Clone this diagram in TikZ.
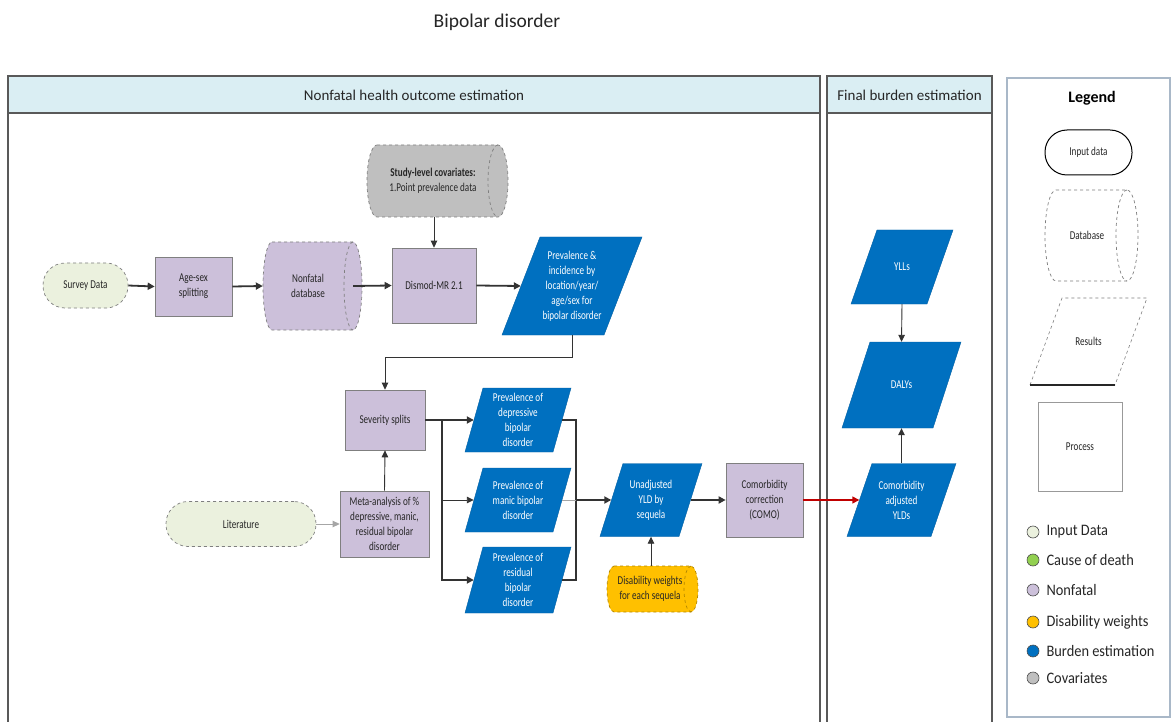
\documentclass[tikz,border=0pt]{standalone}
\usepackage{fontspec}
\setmainfont{Carlito}
\newfontfamily\nodefont{Carlito}[FakeStretch=0.76]
\newfontfamily\legfont{Carlito}[FakeStretch=0.9]
\usetikzlibrary{arrows.meta}

\definecolor{purp}{HTML}{CCC0DA}
\definecolor{inputgreen}{HTML}{EBF1DE}
\definecolor{covgray}{HTML}{BFBFBF}
\definecolor{burden}{HTML}{0070C0}
\definecolor{dwyellow}{HTML}{FFC000}
\definecolor{deathgreen}{HTML}{92D050}
\definecolor{headblue}{HTML}{DAEEF3}
\definecolor{framegray}{HTML}{595959}
\definecolor{linegray}{HTML}{333333}
\definecolor{edgegray}{HTML}{7F7F7F}
\definecolor{legendedge}{HTML}{A9B8C8}
\definecolor{comored}{HTML}{C00000}
\definecolor{txtgray}{HTML}{262626}

\newcommand{\nodetextfont}{\nodefont\fontsize{12}{15}\selectfont}

% horizontal cylinder: x0, y0, x1, y1, end radius, style
\newcommand{\hcylinder}[6]{%
  \path[#6] ({#1+#5},#2) -- ({#3-#5},#2)
    .. controls ({#3-0.4477*#5},#2) and (#3,{(#2+#4)/2-0.5523*(#4-#2)/2}) .. (#3,{(#2+#4)/2})
    .. controls (#3,{(#2+#4)/2+0.5523*(#4-#2)/2}) and ({#3-0.4477*#5},#4) .. ({#3-#5},#4)
    -- ({#1+#5},#4)
    .. controls ({#1+0.4477*#5},#4) and (#1,{(#2+#4)/2+0.5523*(#4-#2)/2}) .. (#1,{(#2+#4)/2})
    .. controls (#1,{(#2+#4)/2-0.5523*(#4-#2)/2}) and ({#1+0.4477*#5},#2) .. cycle;
  \path[#6, fill=none] ({#3-#5},#2)
    .. controls ({#3-1.5523*#5},#2) and ({#3-2*#5},{(#2+#4)/2-0.5523*(#4-#2)/2}) .. ({#3-2*#5},{(#2+#4)/2})
    .. controls ({#3-2*#5},{(#2+#4)/2+0.5523*(#4-#2)/2}) and ({#3-1.5523*#5},#4) .. ({#3-#5},#4);
}

% parallelogram: shape style, text style, name, cx, cy, mid width, height, slant, text
\newcommand{\parallelnode}[9]{%
  \path[#1] ({#4-#6/2-#8/2},{#5+#7/2}) -- ({#4-#6/2+#8/2},{#5-#7/2})
    -- ({#4+#6/2+#8/2},{#5-#7/2}) -- ({#4+#6/2-#8/2},{#5+#7/2}) -- cycle;
  \node[#2, minimum width=#6pt, minimum height=#7pt] (#3) at (#4,#5) {#9};
}

\begin{document}
\begin{tikzpicture}[x=1pt,y=-1pt,
  frame/.style={draw=framegray, line width=1.4pt},
  headtext/.style={font=\fontsize{15}{18}\selectfont, text=txtgray},
  box/.style={draw=edgegray, line width=0.7pt, fill=purp, align=center,
    inner sep=2pt, font=\nodetextfont, text=txtgray},
  stadium/.style={draw=edgegray, dashed, line width=0.7pt, fill=inputgreen,
    rounded corners=22pt, align=center, font=\nodetextfont, text=txtgray},
  bodytext/.style={align=center, inner sep=0pt, font=\nodetextfont, text=txtgray},
  bluepara/.style={fill=burden, draw=burden!85!black, line width=0.4pt},
  ptext/.style={align=center, inner sep=0pt, text=white, font=\nodetextfont},
  flow/.style={draw=linegray, line width=1.8pt, -{Triangle[length=7pt,width=7pt]}},
  thinflow/.style={draw=linegray, line width=0.9pt, -{Triangle[length=7pt,width=6.5pt]}},
  lightflow/.style={draw=gray!70, line width=0.9pt, -{Triangle[length=7pt,width=6.5pt]}},
  plain/.style={draw=linegray, line width=1.4pt},
  legdot/.style={circle, draw=gray!60!black, line width=0.6pt, minimum size=12pt, inner sep=0pt},
  legtext/.style={anchor=west, font=\legfont\fontsize{16}{19}\selectfont, text=txtgray}]

\useasboundingbox[fill=white] (0,0) rectangle (1173,722);

% ---- panels ----
\begin{scope}
\clip (0,0) rectangle (1173,722);
\fill[headblue] (8,76) rectangle (820,113);
\draw[frame] (8,740) -- (8,76) -- (820,76) -- (820,740);
\draw[frame] (8,113) -- (820,113);
\fill[headblue] (827,76) rectangle (992,113);
\draw[frame] (827,740) -- (827,76) -- (992,76) -- (992,740);
\draw[frame] (827,113) -- (992,113);
\draw[legendedge, line width=1.3pt] (1007,78) rectangle (1170,717);
\end{scope}

\node[font=\fontsize{19.5}{23}\selectfont, text=txtgray] (title) at (497,22) {Bipolar disorder};
\node[headtext] (mainhead) at (414,95) {Nonfatal health outcome estimation};
\node[headtext] (finalhead) at (909.5,95) {Final burden estimation};
\node[font=\bfseries\fontsize{16}{19}\selectfont, text=black] (leghead) at (1092,98) {Legend};

% ---- top row ----
\node[stadium, minimum width=85pt, minimum height=45pt] (survey) at (85.5,285.5) {Survey Data};
\node[box, minimum width=77pt, minimum height=59pt] (agesex) at (193.5,286.5) {Age-sex\\splitting};
\hcylinder{263}{242}{362}{330}{9}{fill=purp, draw=edgegray, dashed, line width=0.7pt}
\node[bodytext, minimum width=90pt, minimum height=88pt] (db) at (308,286) {Nonfatal\\database};
\node[box, minimum width=84pt, minimum height=75pt] (dismod) at (434,285.5) {Dismod-MR 2.1};
\hcylinder{367}{145}{508}{217}{10}{fill=covgray, draw=edgegray, dashed, line width=0.7pt}
\node[bodytext, minimum width=132pt, minimum height=72pt] (cov) at (433,181)
  {\textbf{Study-level covariates:}\\1.Point prevalence data};
\parallelnode{bluepara}{ptext}{prev}{572}{286}{102}{98}{38}
  {Prevalence \&\\incidence by\\location/year/\\age/sex for\\bipolar disorder}

% ---- severity splits ----
\node[box, minimum width=80pt, minimum height=60pt] (sev) at (385,420) {Severity splits};
\node[box, minimum width=89pt, minimum height=66pt] (meta) at (384.5,524)
  {Meta-analysis of \%\\depressive, manic,\\residual bipolar\\disorder};
\node[stadium, minimum width=150pt, minimum height=45pt] (lit) at (241,524) {Literature};

\parallelnode{bluepara}{ptext}{dep}{518}{420}{88}{64}{18}
  {Prevalence of\\depressive\\bipolar\\disorder}
\parallelnode{bluepara}{ptext}{man}{518}{500}{88}{64}{18}
  {Prevalence of\\manic bipolar\\disorder}
\parallelnode{bluepara}{ptext}{res}{518}{580}{88}{66}{18}
  {Prevalence of\\residual\\bipolar\\disorder}

% ---- YLD ----
\parallelnode{bluepara}{ptext}{unadj}{651}{500}{79}{73}{23}
  {Unadjusted\\YLD by\\sequela}
\node[box, minimum width=77pt, minimum height=74pt] (como) at (764.5,500)
  {Comorbidity\\correction\\(COMO)};
\hcylinder{607}{566}{698}{612}{7}{fill=dwyellow, draw=dwyellow!70!black, dashed, line width=0.7pt}
\node[bodytext, minimum width=86pt, minimum height=46pt] (dw) at (650,589)
  {Disability weights\\for each sequela};

% ---- final burden ----
\parallelnode{bluepara}{ptext}{adj}{901.5}{500}{84}{73}{25}
  {Comorbidity\\adjusted\\YLDs}
\parallelnode{bluepara}{ptext}{ylls}{902}{267}{76}{74}{26}{YLLs}
\parallelnode{bluepara}{ptext}{dalys}{901.5}{385}{91}{86}{28}{DALYs}

% ---- connectors ----
\draw[flow] (survey.east) -- (agesex.west);
\draw[flow] (agesex.east) -- (db.west);
\draw[flow] (db.east) -- (dismod.west);
\draw[thinflow] (dismod.north |- cov.south) -- (dismod.north);
\draw[flow] (dismod.east) -- (prev.west);
\coordinate (turn) at (385,357);
\draw[thinflow] (prev.south) |- (turn) -- (sev.north);
\draw[thinflow] (meta.north) -- (sev.south);
\draw[lightflow] (lit.east) -- (meta.west);

\coordinate (split) at (442,420);
\draw[flow] (sev.east) -- (dep.west);
\draw[flow] (split) |- (res.west);
\draw[thinflow] (split) |- (man.west);

\coordinate (merge) at (576,500);
\draw[plain] (dep.east) -| (merge);
\draw[plain] (res.east) -| (merge);
\draw[draw=gray!70, line width=0.9pt] (man.east) -- (merge);
\draw[flow] (merge) -- (unadj.west);
\draw[thinflow] (unadj.south |- dw.north) -- (unadj.south);
\draw[flow] (unadj.east) -- (como.west);
\draw[draw=comored, line width=1.4pt, -{Triangle[length=7pt,width=7pt]}] (como.east) -- (adj.west);
\draw[thinflow] (adj.north) -- (dalys.south);
\draw[thinflow] (ylls.south) -- (dalys.north);

% ---- legend shapes ----
\node[draw=black, line width=1pt, fill=white, rounded corners=22pt, minimum width=87pt,
  minimum height=45pt, font=\nodetextfont, text=txtgray] (leginput) at (1088.5,152.5) {Input data};
\hcylinder{1045}{190}{1138}{281}{11}{fill=white, draw=edgegray, dashed, line width=0.7pt}
\node[bodytext, minimum width=84pt, minimum height=91pt] (legdb) at (1087,235.5) {Database};
\parallelnode{draw=edgegray, dashed, line width=0.6pt}{bodytext}{legres}{1088.5}{341.5}{85}{87}{32}{Results}
\draw[line width=1.6pt, draw=txtgray] (legres.south west) ++(-16,0) -- ++(85,0);
\node[draw=gray!80, line width=1pt, minimum width=84pt, minimum height=89pt,
  font=\nodetextfont, text=txtgray] (legproc) at (1080,446.5) {Process};

% ---- colour key ----
\node[legdot, fill=inputgreen] (k1) at (1033,532) {};
\node[legdot, fill=deathgreen] (k2) at (1033,560) {};
\node[legdot, fill=purp] (k3) at (1033,590) {};
\node[legdot, fill=dwyellow] (k4) at (1033,622) {};
\node[legdot, fill=burden] (k5) at (1033,651) {};
\node[legdot, fill=covgray] (k6) at (1033,678) {};
\node[legtext] (t1) at (1043,532) {Input Data};
\node[legtext] (t2) at (1043,560) {Cause of death};
\node[legtext] (t3) at (1043,590) {Nonfatal};
\node[legtext] (t4) at (1043,622) {Disability weights};
\node[legtext] (t5) at (1043,651) {Burden estimation};
\node[legtext] (t6) at (1043,678) {Covariates};
\end{tikzpicture}
\end{document}
